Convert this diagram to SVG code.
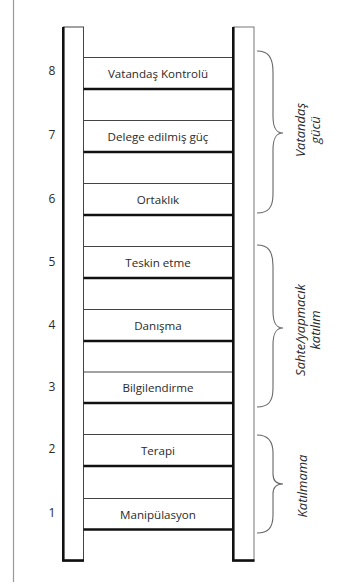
<svg xmlns="http://www.w3.org/2000/svg" width="347" height="582" viewBox="0 0 347 582">
<style>
.thin{stroke:#444;stroke-width:1;fill:none}
.thick{stroke:#111;stroke-width:2.6;fill:none}
.lbl{font-family:"Open Sans","Liberation Sans",sans-serif;font-size:11.6px;fill:#2a2a2a;text-anchor:middle}
.num{font-family:"Open Sans","Liberation Sans",sans-serif;font-size:12px;fill:#2a2a2a;text-anchor:middle}
.br{stroke:#666;stroke-width:1.1;fill:none}
.bt{font-family:"Open Sans","Liberation Sans",sans-serif;font-size:13px;font-style:italic;fill:#2a2a2a;text-anchor:middle}
</style>
<rect width="347" height="582" fill="#fff"/>
<line x1="13.5" y1="0" x2="13.5" y2="582" stroke="#999" stroke-width="1.2"/>
<g id="rail-left">
<rect x="63.5" y="27" width="20" height="534" fill="#fff" class="thin"/>
<line class="thick" x1="63.3" y1="27" x2="63.3" y2="561"/>
<line class="thick" x1="62" y1="560.5" x2="84" y2="560.5"/>
</g>
<g id="rail-right">
<rect x="233.5" y="27" width="20.5" height="534" fill="#fff" stroke="#777" stroke-width="1"/>
<line class="thick" x1="233.3" y1="27" x2="233.3" y2="561"/>
<line class="thick" x1="232" y1="560.5" x2="254.5" y2="560.5"/>
</g>
<g id="rung-8"><line class="thin" x1="83.5" y1="57.5" x2="232" y2="57.5"/><line class="thick" x1="83.5" y1="89" x2="232" y2="89"/><text class="num" x="52" y="75">8</text><text class="lbl" x="158" y="77.5">Vatandaş Kontrolü</text></g>
<g id="rung-7"><line class="thin" x1="83.5" y1="120.5" x2="232" y2="120.5"/><line class="thick" x1="83.5" y1="152" x2="232" y2="152"/><text class="num" x="52" y="139">7</text><text class="lbl" x="158" y="140.5">Delege edilmiş güç</text></g>
<g id="rung-6"><line class="thin" x1="83.5" y1="183.5" x2="232" y2="183.5"/><line class="thick" x1="83.5" y1="215" x2="232" y2="215"/><text class="num" x="52" y="203">6</text><text class="lbl" x="158" y="203.5">Ortaklık</text></g>
<g id="rung-5"><line class="thin" x1="83.5" y1="246.5" x2="232" y2="246.5"/><line class="thick" x1="83.5" y1="278" x2="232" y2="278"/><text class="num" x="52" y="266">5</text><text class="lbl" x="158" y="266.5">Teskin etme</text></g>
<g id="rung-4"><line class="thin" x1="83.5" y1="309.5" x2="232" y2="309.5"/><line class="thick" x1="83.5" y1="341" x2="232" y2="341"/><text class="num" x="52" y="329">4</text><text class="lbl" x="158" y="329.5">Danışma</text></g>
<g id="rung-3"><line class="thin" x1="83.5" y1="372" x2="232" y2="372"/><line class="thick" x1="83.5" y1="403" x2="232" y2="403"/><text class="num" x="52" y="391">3</text><text class="lbl" x="158" y="392">Bilgilendirme</text></g>
<g id="rung-2"><line class="thin" x1="83.5" y1="434.5" x2="232" y2="434.5"/><line class="thick" x1="83.5" y1="466" x2="232" y2="466"/><text class="num" x="52" y="453">2</text><text class="lbl" x="158" y="454.5">Terapi</text></g>
<g id="rung-1"><line class="thin" x1="83.5" y1="498.5" x2="232" y2="498.5"/><line class="thick" x1="83.5" y1="529.5" x2="232" y2="529.5"/><text class="num" x="52" y="517">1</text><text class="lbl" x="158" y="518.5">Manipülasyon</text></g>
<g id="brace-vatandas">
<path class="br" d="M257,51 C268,51 273,57 273,72 L273,116 C273,128 276,133 283,133 C276,133 273,138 273,150 L273,194 C273,208 268,213 257,213"/>
<text class="bt" transform="translate(305,130) rotate(-90)">Vatandaş</text>
<text class="bt" transform="translate(320,130) rotate(-90)">gücü</text>
</g>
<g id="brace-sahte">
<path class="br" d="M257,245 C268,245 273,251 273,266 L273,311 C273,323 276,328 283,328 C276,328 273,333 273,345 L273,388 C273,402 268,407 257,407"/>
<text class="bt" transform="translate(305,330) rotate(-90)">Sahte/yapmacık</text>
<text class="bt" transform="translate(320,330) rotate(-90)">katılım</text>
</g>
<g id="brace-katilmama">
<path class="br" d="M257,435 C268,435 273,441 273,453 L273,474 C273,481 276,484 283,484 C276,484 273,487 273,494 L273,515 C273,528 268,533 257,533"/>
<text class="bt" transform="translate(307,486) rotate(-90)">Katılmama</text>
</g>
</svg>
